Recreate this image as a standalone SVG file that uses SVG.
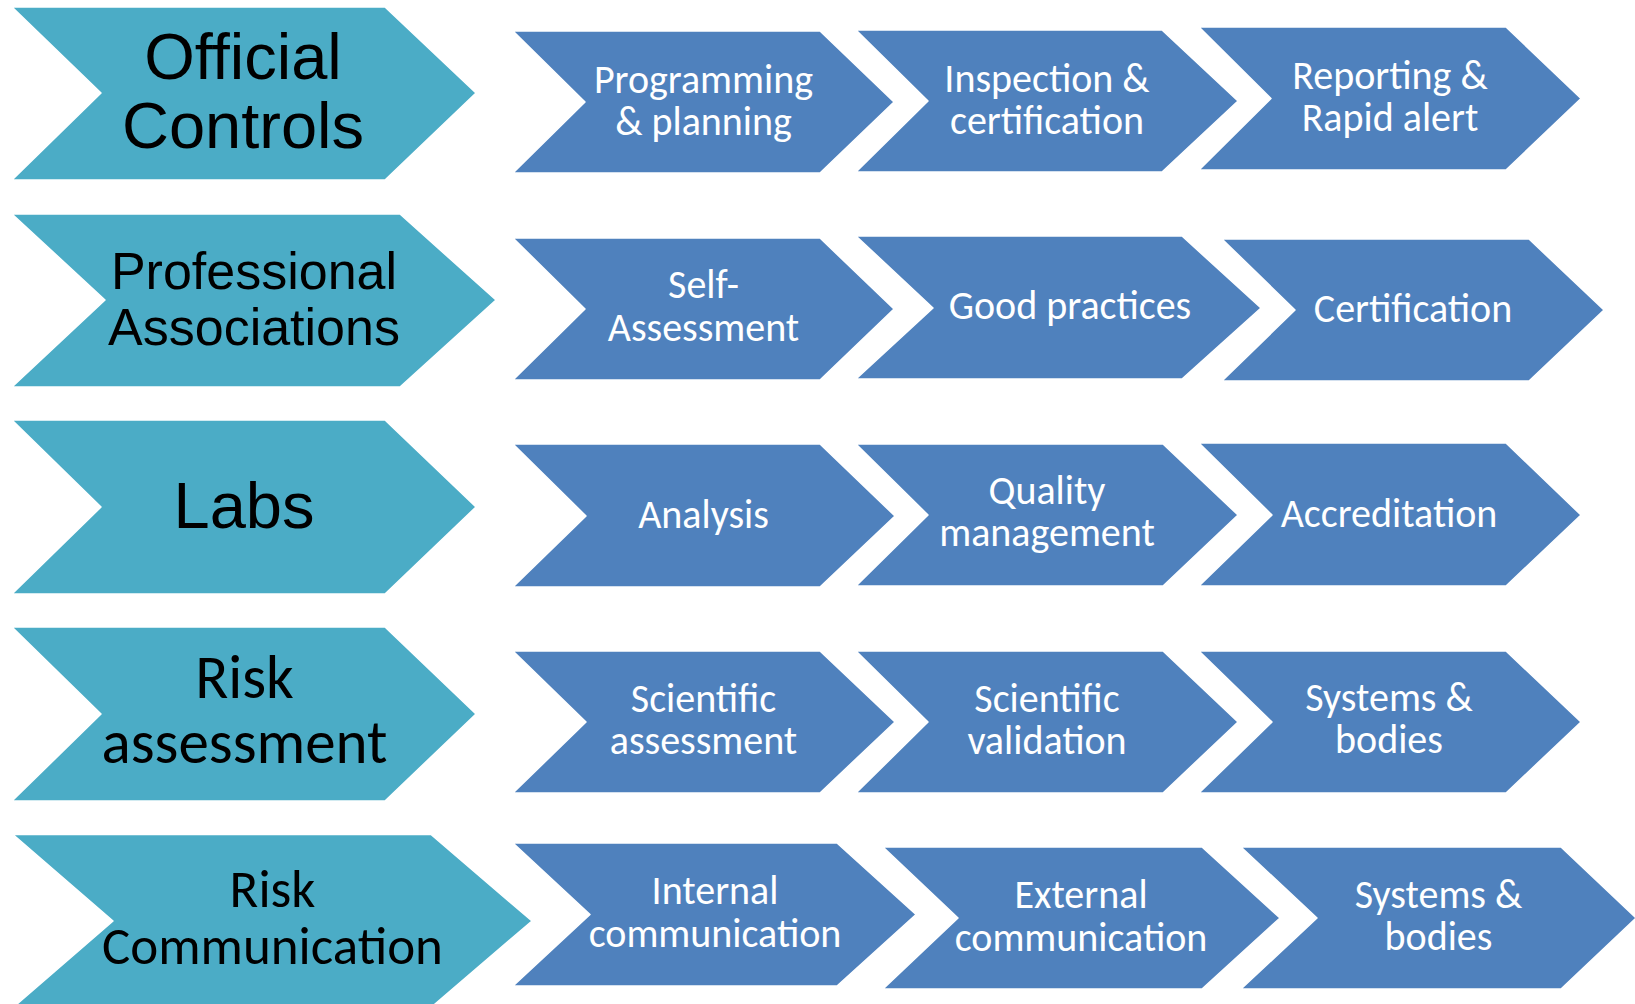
<svg xmlns="http://www.w3.org/2000/svg" width="1635" height="1004" viewBox="0 0 1635 1004">
<style>
.teal{fill:#4BACC6;stroke:#ffffff;stroke-width:1.5;stroke-linejoin:round}
.blue{fill:#4F81BD;stroke:#ffffff;stroke-width:1.5;stroke-linejoin:round}
.hd{font-family:"Liberation Sans",Arial,sans-serif;fill:#000;text-anchor:middle}
.hc{font-family:Calibri,Carlito,Lato,sans-serif;fill:#000;text-anchor:middle}
.bt{font-family:Calibri,Carlito,Lato,sans-serif;fill:#fff;text-anchor:middle;font-size:40px}
</style>
<rect width="1635" height="1004" fill="#ffffff"/>
<g id="connectors"></g>
<!-- Row 1 -->
<g id="official-controls">
<path class="teal" d="M12,7 H385 L476,93 L385,180 H12 L101,93 Z"/>
<text class="hd" font-size="65" x="243" y="79">Official<tspan x="243" y="148">Controls</tspan></text>
</g>
<g id="programming-planning">
<path class="blue" d="M513,31 H820 L894,102 L820,173 H513 L585,102 Z"/>
<text class="bt" x="703.5" y="92.5">Programming<tspan x="703.5" y="135">&amp; planning</tspan></text>
</g>
<g id="inspection-certification">
<path class="blue" d="M856,30 H1162 L1238,101 L1162,172 H856 L928,101 Z"/>
<text class="bt" x="1047" y="92">Inspection &amp;<tspan x="1047" y="134">certification</tspan></text>
</g>
<g id="reporting-rapid-alert">
<path class="blue" d="M1199,27 H1506 L1581,98.5 L1506,170 H1199 L1271,98.5 Z"/>
<text class="bt" x="1390" y="88.5">Reporting &amp;<tspan x="1390" y="130.5">Rapid alert</tspan></text>
</g>
<!-- Row 2 -->
<g id="professional-associations">
<path class="teal" d="M12,214 H400 L496,300 L400,387 H12 L105,300 Z"/>
<text class="hd" font-size="52" x="254" y="289">Professional<tspan x="254" y="345">Associations</tspan></text>
</g>
<g id="self-assessment">
<path class="blue" d="M513,238 H820 L894,309 L820,380 H513 L585,309 Z"/>
<text class="bt" x="703.5" y="298">Self-<tspan x="703.5" y="341">Assessment</tspan></text>
</g>
<g id="good-practices">
<path class="blue" d="M856,236 H1182 L1261,308 L1182,379 H856 L933,308 Z"/>
<text class="bt" x="1070" y="318.5">Good practices</text>
</g>
<g id="certification">
<path class="blue" d="M1222,239 H1529 L1604,310 L1529,381 H1222 L1295,310 Z"/>
<text class="bt" x="1413" y="321.5">Certification</text>
</g>
<!-- Row 3 -->
<g id="labs">
<path class="teal" d="M12,420 H385 L476,507 L385,594 H12 L101,507 Z"/>
<text class="hd" font-size="65" x="244" y="528">Labs</text>
</g>
<g id="analysis">
<path class="blue" d="M513,444 H820 L895,516 L820,587 H513 L586,516 Z"/>
<text class="bt" x="703.5" y="527.5">Analysis</text>
</g>
<g id="quality-management">
<path class="blue" d="M856,444 H1163 L1238,515 L1163,586 H856 L928,515 Z"/>
<text class="bt" x="1047" y="504">Quality<tspan x="1047" y="546">management</tspan></text>
</g>
<g id="accreditation">
<path class="blue" d="M1199,443 H1506 L1581,515 L1506,586 H1199 L1272,515 Z"/>
<text class="bt" x="1389" y="527">Accreditation</text>
</g>
<!-- Row 4 -->
<g id="risk-assessment">
<path class="teal" d="M12,627 H385 L476,714 L385,801 H12 L101,714 Z"/>
<text class="hc" font-size="61" x="244.5" y="698">Risk<tspan x="244.5" y="763">assessment</tspan></text>
</g>
<g id="scientific-assessment">
<path class="blue" d="M513,651 H820 L895,722 L820,793 H513 L586,722 Z"/>
<text class="bt" x="703.5" y="711.5">Scientific<tspan x="703.5" y="754">assessment</tspan></text>
</g>
<g id="scientific-validation">
<path class="blue" d="M856,651 H1163 L1238,722 L1163,793 H856 L928,722 Z"/>
<text class="bt" x="1047" y="711.5">Scientific<tspan x="1047" y="754">validation</tspan></text>
</g>
<g id="systems-bodies-1">
<path class="blue" d="M1199,651 H1506 L1581,722 L1506,793 H1199 L1272,722 Z"/>
<text class="bt" x="1389" y="710.5">Systems &amp;<tspan x="1389" y="753">bodies</tspan></text>
</g>
<!-- Row 5 -->
<g id="risk-communication">
<path class="teal" d="M13,834.5 H431 L532,921 L431,1007.5 H13 L113,921 Z"/>
<text class="hc" font-size="53" x="272.5" y="907">Risk<tspan x="272.5" y="963.5">Communication</tspan></text>
</g>
<g id="internal-communication">
<path class="blue" d="M513,843 H837 L916,914.5 L837,986 H513 L590,914.5 Z"/>
<text class="bt" x="715" y="904">Internal<tspan x="715" y="946.5">communication</tspan></text>
</g>
<g id="external-communication">
<path class="blue" d="M883,847 H1202 L1280,918 L1202,989 H883 L958,918 Z"/>
<text class="bt" x="1081" y="908">External<tspan x="1081" y="950.5">communication</tspan></text>
</g>
<g id="systems-bodies-2">
<path class="blue" d="M1241,847 H1561 L1636,918 L1561,989 H1241 L1317,918 Z"/>
<text class="bt" x="1438.5" y="907.5">Systems &amp;<tspan x="1438.5" y="950">bodies</tspan></text>
</g>
</svg>
